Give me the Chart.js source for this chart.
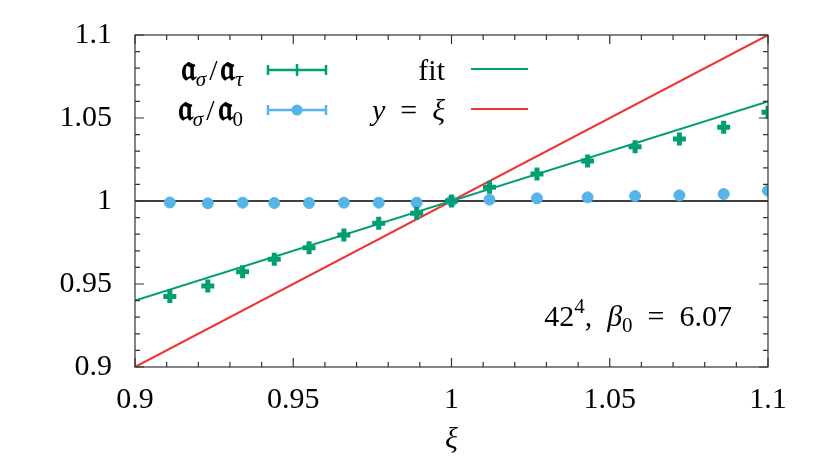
<!DOCTYPE html>
<html>
<head>
<meta charset="utf-8">
<script src="https://cdn.jsdelivr.net/npm/chart.js@4"></script>
<style>
  html, body { margin: 0; padding: 0; background: #fff; }
  #wrap { width: 830px; height: 465px; }
</style>
</head>
<body>
<div id="wrap"><canvas id="c" width="830" height="465"></canvas></div>
<script>
// data
const xi = [0.911, 0.923, 0.934, 0.944, 0.955, 0.966, 0.977, 0.989, 1.0, 1.012, 1.027, 1.043, 1.058, 1.072, 1.086, 1.1];
const ratioTau = [0.9424, 0.9488, 0.9574, 0.9649, 0.9719, 0.9795, 0.9866, 0.9926, 1.0, 1.0083, 1.0163, 1.0241, 1.0327, 1.0373, 1.0444, 1.0534];
const ratio0 = [0.9991, 0.9986, 0.999, 0.9988, 0.9988, 0.999, 0.999, 0.999, 1.0, 1.0008, 1.0016, 1.0022, 1.003, 1.0034, 1.0042, 1.0062];
const fitX = [0.9, 1.1];
const fitY = [0.94, 1.06];
const identX = [0.9, 1.1];
const identY = [0.9, 1.1];
const unitY = [1.0, 1.0];
const ticks = [0.9, 0.95, 1, 1.05, 1.1];

const green = '#009e73', blue = '#56b4e9', red = '#ee3333';
const serif = '"Liberation Serif", "Liberation Sans", sans-serif';
const fsize = 30;

function pts(xs, ys) {
    return xs.map((x, i) => ({x: x, y: ys[i]}));
}

// draws text pieces: n normal, f fraktur (bold), i italic, sub / isub subscript, sup superscript
// optional third entry = extra gap after the piece
function richText(ctx, parts, x, y, align) {
    const fontOf = s => {
        if (s == 'i') return 'italic ' + fsize + 'px ' + serif;
        if (s == 'f') return 'bold 35px "DejaVu Sans", ' + serif;
        if (s == 'isub') return 'italic 21px ' + serif;
        if (s == 'sub' || s == 'sup') return '21px ' + serif;
        return fsize + 'px ' + serif;
    };
    let w = 0;
    parts.forEach(p => { ctx.font = fontOf(p[1]); w += ctx.measureText(p[0]).width + (p[2] || 0); });
    let cx = align == 'right' ? x - w : x;
    ctx.textBaseline = 'alphabetic';
    ctx.textAlign = 'left';
    parts.forEach(p => {
        ctx.font = fontOf(p[1]);
        let dy = 10;
        if (p[1] == 'sub' || p[1] == 'isub') dy = 16;
        if (p[1] == 'sup') dy = -3;
        ctx.fillText(p[0], cx, y + dy);
        cx += ctx.measureText(p[0]).width + (p[2] || 0);
    });
}

const frame = {
    id: 'frame',
    afterDatasetsDraw(chart) {
        const ctx = chart.ctx, a = chart.chartArea;
        const sx = chart.scales.x, sy = chart.scales.y;
        ctx.save();
        ctx.strokeStyle = '#333';
        ctx.lineWidth = 1.2;
        ctx.strokeRect(a.left, a.top, a.right - a.left, a.bottom - a.top);
        ctx.beginPath();
        for (let k = 0; k <= 20; k++) {
            const v = 0.9 + k * 0.01;
            const len = k % 5 == 0 ? 9 : 5;
            const px = sx.getPixelForValue(v), py = sy.getPixelForValue(v);
            ctx.moveTo(px, a.bottom); ctx.lineTo(px, a.bottom - len);
            ctx.moveTo(px, a.top); ctx.lineTo(px, a.top + len);
            ctx.moveTo(a.left, py); ctx.lineTo(a.left + len, py);
            ctx.moveTo(a.right, py); ctx.lineTo(a.right - len, py);
        }
        ctx.stroke();

        // key
        ctx.fillStyle = '#000';
        richText(ctx, [['𝔞', 'f'], ['σ', 'isub', 3], ['/', 'n', 3], ['𝔞', 'f'], ['τ', 'isub']], 243, 70, 'right');
        richText(ctx, [['𝔞', 'f'], ['σ', 'isub', 3], ['/', 'n', 3], ['𝔞', 'f'], ['0', 'sub']], 243, 110, 'right');
        richText(ctx, [['fit', 'n']], 445, 70, 'right');
        richText(ctx, [['y', 'i'], ['\u2002=\u2002', 'n'], ['ξ', 'i']], 445, 110, 'right');

        ctx.lineWidth = 2.5;
        [[70, green], [110, blue]].forEach(r => {
            const y = r[0];
            ctx.strokeStyle = r[1];
            ctx.beginPath();
            ctx.moveTo(268, y); ctx.lineTo(326, y);
            ctx.moveTo(268, y - 5); ctx.lineTo(268, y + 5);
            ctx.moveTo(326, y - 5); ctx.lineTo(326, y + 5);
            if (y == 70) { ctx.moveTo(297, y - 6); ctx.lineTo(297, y + 6); }
            ctx.stroke();
        });
        ctx.fillStyle = blue;
        ctx.beginPath(); ctx.arc(297, 110, 5.5, 0, Math.PI * 2); ctx.fill();

        ctx.lineWidth = 2;
        ctx.strokeStyle = green;
        ctx.beginPath(); ctx.moveTo(471, 69); ctx.lineTo(528, 69); ctx.stroke();
        ctx.strokeStyle = red;
        ctx.beginPath(); ctx.moveTo(471, 109); ctx.lineTo(528, 109); ctx.stroke();

        ctx.fillStyle = '#000';
        richText(ctx, [['42', 'n'], ['4', 'sup'], [',\u2002', 'n'], ['β', 'i'], ['0', 'sub'], ['\u2002=\u20026.07', 'n']], 732, 316, 'right');
        ctx.restore();
    }
};

const data = {
    datasets: [
        {label: 'y=1', data: pts(identX, unitY), showLine: true, borderColor: '#000', borderWidth: 1.5, pointRadius: 0, order: 4},
        {label: 'y = xi', data: pts(identX, identY), showLine: true, borderColor: red, borderWidth: 2, pointRadius: 0, order: 3},
        {label: 'fit', data: pts(fitX, fitY), showLine: true, borderColor: green, borderWidth: 2, pointRadius: 0, order: 2},
        {label: 'a_sigma/a_0', data: pts(xi, ratio0), backgroundColor: blue, borderColor: blue, pointRadius: 5.5, pointStyle: 'circle', order: 1},
        {label: 'a_sigma/a_tau', data: pts(xi, ratioTau), borderColor: green, backgroundColor: green, pointStyle: 'cross', pointRadius: 6.5, borderWidth: 5, order: 0}
    ]
};

new Chart(document.getElementById('c').getContext('2d'), {
    type: 'scatter',
    data: data,
    options: {
        responsive: false,
        animation: false,
        events: [],
        layout: {padding: {top: 35, right: 62, left: 0, bottom: 0}},
        plugins: {legend: {display: false}, tooltip: {enabled: false}},
        scales: {
            x: {
                min: 0.9, max: 1.1,
                afterFit(s) { s.height = 98; s.paddingLeft = 0; s.paddingRight = 0; },
                afterBuildTicks(s) { s.ticks = ticks.map(v => ({value: v})); },
                grid: {display: false, drawTicks: false},
                border: {display: false},
                ticks: {
                    padding: 15, color: '#000', maxRotation: 0,
                    font: {family: serif, size: fsize},
                    callback: v => String(parseFloat(v.toFixed(2)))
                },
                title: {display: true, text: 'ξ', color: '#000', padding: {top: 0, bottom: 7},
                        font: {family: serif, size: fsize, style: 'italic'}}
            },
            y: {
                min: 0.9, max: 1.1,
                afterFit(s) { s.width = 135; s.paddingTop = 0; s.paddingBottom = 0; },
                afterBuildTicks(s) { s.ticks = ticks.map(v => ({value: v})); },
                grid: {display: false, drawTicks: false},
                border: {display: false},
                ticks: {
                    padding: 23, color: '#000',
                    font: {family: serif, size: fsize},
                    callback: v => String(parseFloat(v.toFixed(2)))
                }
            }
        }
    },
    plugins: [frame]
});
</script>
</body>
</html>
